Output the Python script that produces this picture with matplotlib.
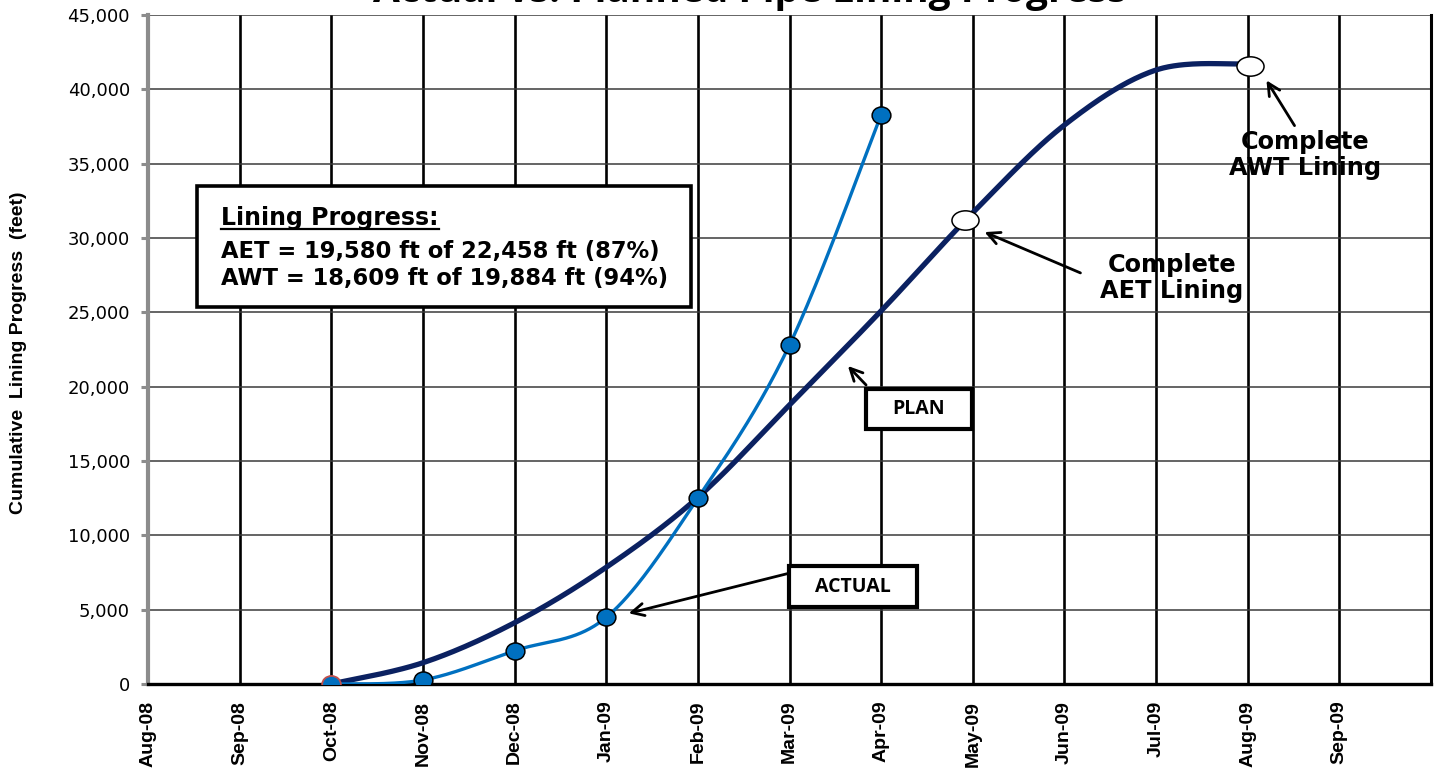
import numpy as np
import matplotlib.pyplot as plt
from matplotlib.path import Path
from matplotlib.patches import Rectangle, FancyArrowPatch
from matplotlib.lines import Line2D
from matplotlib.transforms import Affine2D

# month labels on the x axis (one per gridline)
months = ['Aug-08', 'Sep-08', 'Oct-08', 'Nov-08', 'Dec-08', 'Jan-09', 'Feb-09',
          'Mar-09', 'Apr-09', 'May-09', 'Jun-09', 'Jul-09', 'Aug-09', 'Sep-09']

# planned cumulative lining (feet)
plan_months = ['Oct-08', 'Nov-08', 'Dec-08', 'Jan-09', 'Feb-09', 'Mar-09',
               'Apr-09', 'May-09', 'Jun-09', 'Jul-09', 'Aug-09']
plan_ft = [0, 1430, 4120, 7850, 12550, 18770, 25100, 31700, 37600, 41300, 41700]

# actual cumulative lining (feet)
actual_months = ['Oct-08', 'Nov-08', 'Dec-08', 'Jan-09', 'Feb-09', 'Mar-09', 'Apr-09']
actual_ft = [0, 270, 2240, 4480, 12500, 22800, 38280]

# planned completion milestones (month position, feet)
milestone_month = [8.92, 12.03]
milestone_ft = [31200, 41600]

yticks = np.arange(0, 45001, 5000)

PLAN_COLOR = '#0B2161'
ACTUAL_COLOR = '#0070C0'


def smooth(x, y, n=40):
    # Excel style smoothed line: cubic bezier segments through the points
    P = np.column_stack([x, y]).astype(float)
    Q = np.vstack([P[0], P, P[-1]])
    t = np.linspace(0, 1, n)[:, None]
    segs = []
    for i in range(len(P) - 1):
        p0, p3 = Q[i + 1], Q[i + 2]
        c1 = p0 + (Q[i + 2] - Q[i]) / 6
        c2 = p3 - (Q[i + 3] - Q[i + 1]) / 6
        b = ((1 - t) ** 3) * p0 + 3 * ((1 - t) ** 2) * t * c1 + 3 * (1 - t) * t ** 2 * c2 + t ** 3 * p3
        segs.append(b if i == 0 else b[1:])
    s = np.vstack(segs)
    return s[:, 0], s[:, 1]


def fp(x, y):
    # pixel position in the 1444x776 picture -> figure fraction
    return x / 1444, 1 - y / 776


dot = Path.unit_circle().transformed(Affine2D().scale(1.1, 1.0))
ellipse = Path.unit_circle().transformed(Affine2D().scale(1.4, 1.0))

fig = plt.figure(figsize=(14.44, 7.76), dpi=100)
ax = fig.add_axes([148 / 1444, 1 - 684 / 776, (1431 - 148) / 1444, (684 - 15) / 776])

px = [months.index(m) for m in plan_months]
ax_ = [months.index(m) for m in actual_months]

sx, sy = smooth(px, plan_ft)
ax.plot(sx, sy, color=PLAN_COLOR, lw=3.8, solid_capstyle='round', zorder=4)

sx, sy = smooth(ax_, actual_ft)
ax.plot(sx, sy, color=ACTUAL_COLOR, lw=2.4, zorder=5)
ax.plot(ax_[1:], actual_ft[1:], ls='none', marker=dot, ms=13.5,
        mfc=ACTUAL_COLOR, mec='black', mew=1.1, zorder=6)
ax.plot(ax_[:1], actual_ft[:1], ls='none', marker=dot, ms=13.5,
        mfc=ACTUAL_COLOR, mec='#C0504D', mew=1.3, zorder=6)

ax.plot(milestone_month, milestone_ft, ls='none', marker=ellipse, ms=19.5,
        mfc='white', mec='black', mew=1.1, zorder=7)

ax.set_xlim(0, 14)
ax.set_ylim(0, 45000)
ax.set_xticks(range(len(months)))
ax.set_xticklabels(months, rotation=90, fontsize=14, fontweight='bold',
                   family=['Liberation Sans', 'DejaVu Sans'])
ax.set_yticks(yticks)
ax.set_yticklabels([f'{v:,.0f}' for v in yticks], fontsize=13, family='DejaVu Sans')

ax.tick_params(axis='x', length=0, pad=12)
ax.tick_params(axis='y', length=5, width=2.2, color='#8C8C8C', pad=8)

ax.grid(axis='x', color='black', lw=1.9, zorder=1)
ax.grid(axis='y', color='#3A3A3A', lw=1.1, zorder=1)
ax.set_axisbelow(True)

ax.spines['top'].set_visible(False)
ax.spines['left'].set_color('#8C8C8C')
ax.spines['left'].set_linewidth(3)
ax.spines['bottom'].set_color('black')
ax.spines['bottom'].set_linewidth(2.4)
ax.spines['right'].set_color('black')
ax.spines['right'].set_linewidth(2.2)

ax.set_ylabel('Cumulative  Lining Progress  (feet)', fontsize=14, fontweight='bold',
              family=['Liberation Sans', 'DejaVu Sans'])
ax.yaxis.set_label_coords(-(148 - 27) / (1431 - 148), 0.495)

# title, mostly cropped at the top edge (as in the source image)
fig.text(*fp(750, 2), 'Actual vs. Planned Pipe Lining Progress', ha='center', va='baseline',
         fontsize=28, fontweight='bold', family=['Open Sans', 'DejaVu Sans'])

# summary box
x0, y0 = fp(197, 307)
x1, y1 = fp(691, 186)
fig.patches.append(Rectangle((x0, y0), x1 - x0, y1 - y0, transform=fig.transFigure,
                             facecolor='white', edgecolor='black', lw=2.6, zorder=10))
head = fig.text(*fp(221, 225), 'Lining Progress:', fontsize=17, fontweight='bold',
                family='DejaVu Sans', ha='left', va='baseline', zorder=11)
fig.text(*fp(221, 258), 'AET = 19,580 ft of 22,458 ft (87%)', fontsize=16.3, fontweight='bold',
         family='DejaVu Sans', ha='left', va='baseline', zorder=11)
fig.text(*fp(221, 285), 'AWT = 18,609 ft of 19,884 ft (94%)', fontsize=16.3, fontweight='bold',
         family='DejaVu Sans', ha='left', va='baseline', zorder=11)

# underline the heading
bb = head.get_window_extent(renderer=fig.canvas.get_renderer())
uy = 1 - 229 / 776
fig.add_artist(Line2D([bb.x0 / 1444, bb.x1 / 1444], [uy, uy], transform=fig.transFigure,
                      color='black', lw=1.6, zorder=11))

# PLAN / ACTUAL tags
for label, (bx0, by0, bx1, by1) in [('PLAN', (866, 389, 972, 429)),
                                    ('ACTUAL', (789, 566, 917, 607))]:
    a, b = fp(bx0, by1)
    c, d = fp(bx1, by0)
    fig.patches.append(Rectangle((a, b), c - a, d - b, transform=fig.transFigure,
                                 facecolor='white', edgecolor='black', lw=3, zorder=10))
    fig.text((a + c) / 2, (b + d) / 2, label, ha='center', va='center', fontsize=14,
             fontweight='bold', family=['Open Sans', 'DejaVu Sans'], zorder=11)

# milestone notes
fig.text(*fp(1172, 278), 'Complete\nAET Lining', ha='center', va='center', fontsize=17.3,
         fontweight='bold', family='DejaVu Sans', linespacing=1.15)
fig.text(*fp(1305, 155), 'Complete\nAWT Lining', ha='center', va='center', fontsize=17.3,
         fontweight='bold', family='DejaVu Sans', linespacing=1.15)

arrows = [((1083, 274), (982, 231)),
          ((1296, 128), (1265, 78)),
          ((868, 387), (846, 364)),
          ((790, 573), (626, 614))]
for (tx, ty), (hx, hy) in arrows:
    fig.add_artist(FancyArrowPatch(fp(tx, ty), fp(hx, hy), transform=fig.transFigure,
                                   arrowstyle='->', mutation_scale=22, lw=2, color='black',
                                   zorder=12))

fig.savefig('out.png', dpi=100)
